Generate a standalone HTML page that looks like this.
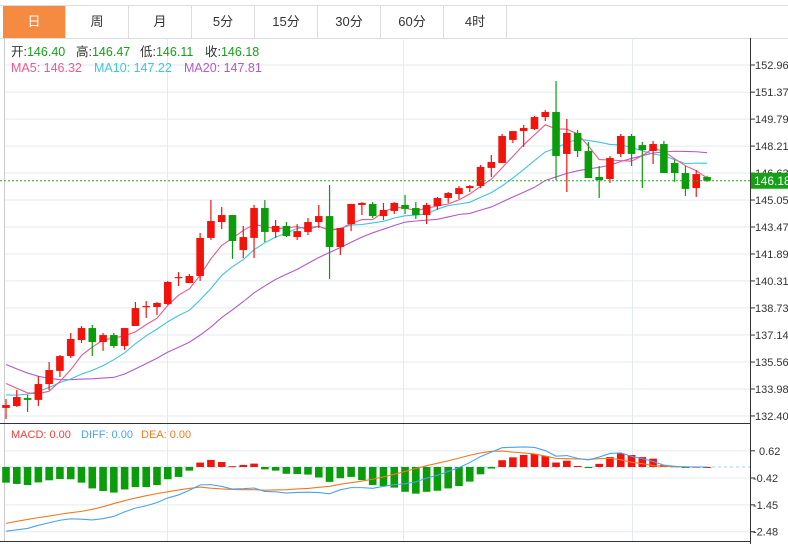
<!DOCTYPE html>
<html><head><meta charset="utf-8">
<style>
body{margin:0;background:#fff;}
svg{display:block;font-family:"Liberation Sans","Noto Sans CJK SC",sans-serif;}
</style></head>
<body>
<svg id="chart" width="788" height="544" viewBox="0 0 788 544" xmlns="http://www.w3.org/2000/svg">
  <rect x="0" y="0" width="788" height="544" fill="#fff"/>
  <g id="tabs"></g>
  <g id="grid"></g>
  <g id="ma"></g>
  <g id="candles"></g>
  <g id="macd"></g>
  <g id="axes"></g>
  <g id="info">
    <text y="56" font-size="12.5" fill="#333"><tspan x="11">开:</tspan><tspan fill="#15a01a">146.40</tspan><tspan x="76">高:</tspan><tspan fill="#15a01a">146.47</tspan><tspan x="140">低:</tspan><tspan fill="#15a01a">146.11</tspan><tspan x="205">收:</tspan><tspan fill="#15a01a">146.18</tspan></text>
    <text y="72" font-size="12.5"><tspan x="11" fill="#ec5a8c">MA5: 146.32</tspan><tspan x="94" fill="#3ec5dc">MA10: 147.22</tspan><tspan x="184" fill="#b459c9">MA20: 147.81</tspan></text>
    <text y="438" font-size="11"><tspan x="11" fill="#f0403a">MACD: 0.00</tspan><tspan x="81" fill="#4aa3f0">DIFF: 0.00</tspan><tspan x="141" fill="#f07a20">DEA: 0.00</tspan></text>
  </g>
</svg>
<script>
const tabLabels = ['日','周','月','5分','15分','30分','60分','4时'];
const priceTicks = [152.96,151.37,149.79,148.21,146.63,145.05,143.47,141.89,140.31,138.73,137.14,135.56,133.98,132.40];
const macdTicks = [0.62,-0.42,-1.45,-2.48];
const priorCloses = [138.6,138.3,138.0,137.6,137.3,137.0,136.8,136.5,136.2,135.7,133.6,132.8,132.6,132.8,133.0,134.9,134.7,134.5,134.36];
const opens = [132.87,132.98,133.45,133.34,134.27,135.04,135.91,136.85,137.55,136.73,137.14,136.50,137.67,138.78,138.78,138.96,140.48,140.19,140.60,142.83,143.76,144.17,142.12,142.83,144.58,143.18,143.53,142.88,143.18,143.76,144.11,142.30,143.64,144.76,144.82,144.11,144.41,144.76,144.58,144.17,144.70,145.17,145.40,145.75,145.87,146.93,147.22,148.57,149.09,149.21,149.91,150.21,147.75,148.98,147.92,146.40,146.28,147.75,148.80,148.27,147.92,148.33,147.22,146.63,145.75,146.40];
const highs = [133.39,133.92,133.63,134.74,135.56,135.97,137.26,137.67,137.73,137.26,137.26,137.55,139.08,139.13,139.08,140.31,140.83,140.72,143.12,145.05,144.64,144.17,143.53,144.76,145.05,143.88,143.76,143.64,144.00,144.76,145.93,143.41,144.82,144.93,144.93,144.88,144.93,145.35,144.93,144.88,145.23,145.52,145.87,145.93,147.10,147.69,148.92,149.09,149.45,149.97,150.32,152.02,149.80,149.15,148.45,147.04,147.63,148.92,148.92,148.45,148.51,148.51,147.40,147.04,146.81,146.47];
const lows = [132.22,132.93,132.63,132.98,133.92,134.68,135.80,136.67,135.91,136.21,136.38,136.27,137.67,138.14,138.32,138.90,140.01,140.19,140.31,142.71,143.35,141.60,141.65,141.65,142.59,142.83,142.88,142.71,143.00,143.41,140.42,141.83,143.23,144.17,144.00,143.88,144.23,144.23,143.94,143.64,144.47,144.88,145.11,145.52,145.75,146.40,147.22,148.39,148.16,149.15,149.68,146.22,145.52,147.57,146.34,145.17,146.05,147.57,147.04,145.75,147.16,146.63,146.11,145.29,145.23,146.11];
const closes = [133.04,133.51,133.34,134.27,135.09,135.91,136.91,137.55,136.73,137.14,136.50,137.55,138.72,138.84,139.02,140.25,140.54,140.60,142.83,143.82,144.17,142.65,142.88,144.58,143.18,143.53,142.94,143.23,143.76,144.11,142.30,143.41,144.82,144.88,144.11,144.47,144.88,144.53,144.17,144.76,145.17,145.46,145.75,145.87,146.99,147.28,148.80,149.09,149.27,149.91,150.21,147.63,148.98,147.92,146.34,146.22,147.51,148.80,147.75,147.98,148.33,146.63,146.63,145.70,146.57,146.18];
const macdHist = [-0.60,-0.65,-0.69,-0.59,-0.51,-0.46,-0.47,-0.60,-0.82,-0.92,-0.98,-0.86,-0.77,-0.77,-0.69,-0.47,-0.38,-0.14,0.17,0.27,0.19,0.03,0.08,0.13,-0.09,-0.14,-0.26,-0.27,-0.29,-0.40,-0.57,-0.43,-0.38,-0.50,-0.69,-0.73,-0.79,-0.95,-1.02,-0.95,-0.91,-0.82,-0.73,-0.56,-0.28,-0.06,0.26,0.37,0.46,0.50,0.42,0.17,0.24,0.04,-0.04,0.12,0.38,0.52,0.46,0.38,0.32,0.08,0.03,-0.02,0.01,0.00];
const deaVals = [-2.16,-2.08,-2.01,-1.94,-1.88,-1.81,-1.75,-1.70,-1.62,-1.52,-1.40,-1.29,-1.19,-1.10,-1.02,-0.95,-0.88,-0.82,-0.77,-0.81,-0.84,-0.86,-0.87,-0.87,-0.89,-0.88,-0.87,-0.84,-0.82,-0.78,-0.74,-0.66,-0.60,-0.54,-0.47,-0.38,-0.28,-0.17,-0.06,0.05,0.14,0.24,0.34,0.45,0.54,0.60,0.61,0.57,0.54,0.50,0.42,0.33,0.32,0.31,0.29,0.32,0.33,0.28,0.18,0.13,0.05,0.03,0.01,0.01,0.00,0.00];

const NS='http://www.w3.org/2000/svg';
function mk(tag, attrs, parent){const e=document.createElementNS(NS,tag);for(const k in attrs)e.setAttribute(k,attrs[k]);parent.appendChild(e);return e;}
const PTOP=65, PMAX=152.96, PPX=17.07;
const yP = p => PTOP + (PMAX - p) * PPX;
const xC = i => 6 + i * 10.785;
const MZERO=467, MPX=26.1;
const yM = v => MZERO - v * MPX;
const AX=750;
const RED='#f2140c', GREEN='#0a9c0a';

// tabs
const tabs=document.getElementById('tabs');
mk('line',{x1:0,y1:5.5,x2:788,y2:5.5,stroke:'#ddd'},tabs);
mk('line',{x1:0,y1:38.5,x2:788,y2:38.5,stroke:'#ddd'},tabs);
tabLabels.forEach((t,i)=>{
  const x=3+i*63;
  const r=mk('rect',{x:x,y:6,width:62,height:32,fill:i===0?'#f48b41':'#fff'},tabs);
  
  
  mk('line',{x1:x+62.5,y1:6,x2:x+62.5,y2:38,stroke:'#ddd'},tabs);
  const tx=mk('text',{x:x+31,y:26,'font-size':13,'text-anchor':'middle',fill:i===0?'#fff':'#333'},tabs);
  tx.textContent=t;
  
  
});

// grid
const grid=document.getElementById('grid');
priceTicks.forEach(p=>{mk('line',{x1:4,y1:yP(p),x2:AX,y2:yP(p),stroke:'#e3ebf2'},grid);});
macdTicks.forEach(v=>{mk('line',{x1:4,y1:yM(v),x2:AX,y2:yM(v),stroke:'#e3ebf2'},grid);});
[167.5,403.5,632.5].forEach(x=>{mk('line',{x1:x,y1:38,x2:x,y2:541,stroke:'#e3ebf2'},grid);});
mk('line',{x1:4.5,y1:38,x2:4.5,y2:541,stroke:'#ccc'},grid);

// moving averages
const all=priorCloses.concat(closes);
function ma(n){const out=[];for(let i=0;i<closes.length;i++){const k=i+priorCloses.length;let s=0;for(let j=k-n+1;j<=k;j++)s+=all[j];out.push(s/n);}return out;}
const maG=document.getElementById('ma');
[[20,'#b459c9','ma20-line'],[10,'#3ec5dc','ma10-line'],[5,'#ec5a8c','ma5-line']].forEach(([n,c,name])=>{
  const v=ma(n);
  const pl=mk('polyline',{points:v.map((p,i)=>xC(i)+','+yP(p)).join(' '),fill:'none',stroke:c,'stroke-width':1.1},maG);
  
  
});

// candles
const cg=document.getElementById('candles');
closes.forEach((c,i)=>{
  const o=opens[i], up=c>=o, col=up?RED:GREEN, x=xC(i);
  const w=mk('line',{x1:x,y1:yP(highs[i]),x2:x,y2:yP(lows[i]),stroke:col,'stroke-width':1.2},cg);
  
  
  const top=yP(Math.max(o,c)), h=Math.max(1.2,Math.abs(yP(o)-yP(c)));
  const b=mk('rect',{x:x-3.8,y:top,width:7.6,height:h,fill:col},cg);
  
  
});

// MACD
const mg=document.getElementById('macd');
mk('line',{x1:4,y1:MZERO,x2:AX,y2:MZERO,stroke:'#9fd3ef','stroke-dasharray':'3,3'},mg);
macdHist.forEach((v,i)=>{
  const y1=yM(Math.max(v,0)), h=Math.max(1,Math.abs(yM(v)-MZERO));
  const r=mk('rect',{x:xC(i)-3.8,y:y1,width:7.6,height:h,fill:v>=0?RED:GREEN},mg);
  
  
});
const diffVals=deaVals.map((d,i)=>d+macdHist[i]/2);
const dea=mk('polyline',{points:deaVals.map((v,i)=>xC(i)+','+yM(v)).join(' '),fill:'none',stroke:'#f07a20','stroke-width':1.1},mg);


const dif=mk('polyline',{points:diffVals.map((v,i)=>xC(i)+','+yM(v)).join(' '),fill:'none',stroke:'#4aa3f0','stroke-width':1.1},mg);



// axes
const ax=document.getElementById('axes');
mk('line',{x1:AX+0.5,y1:38,x2:AX+0.5,y2:544,stroke:'#333'},ax);
mk('line',{x1:0,y1:423.5,x2:AX,y2:423.5,stroke:'#333'},ax);
mk('line',{x1:0,y1:541.5,x2:AX,y2:541.5,stroke:'#333'},ax);
priceTicks.forEach(p=>{
  mk('line',{x1:AX,y1:yP(p),x2:AX+5,y2:yP(p),stroke:'#333'},ax);
  const t=mk('text',{x:755,y:yP(p)+4,'font-size':11,fill:'#333'},ax);
  t.textContent=p.toFixed(2);
  
  
});
macdTicks.forEach(v=>{
  mk('line',{x1:AX,y1:yM(v),x2:AX+5,y2:yM(v),stroke:'#333'},ax);
  const t=mk('text',{x:v<0?753:759,y:yM(v)+4,'font-size':11,fill:'#333'},ax);
  t.textContent=v.toFixed(2);
  
  
});
const last=closes[closes.length-1], ly=yP(last);
const cl=mk('line',{x1:0,y1:ly,x2:AX,y2:ly,stroke:'#1cb21c','stroke-dasharray':'2,2'},ax);


const lb=mk('rect',{x:AX+1,y:ly-8,width:37,height:16,fill:'#16a016'},ax);


const lt=mk('text',{x:754,y:ly+4.5,'font-size':12,fill:'#fff'},ax);
lt.textContent=last.toFixed(2);


</script>
</body></html>
